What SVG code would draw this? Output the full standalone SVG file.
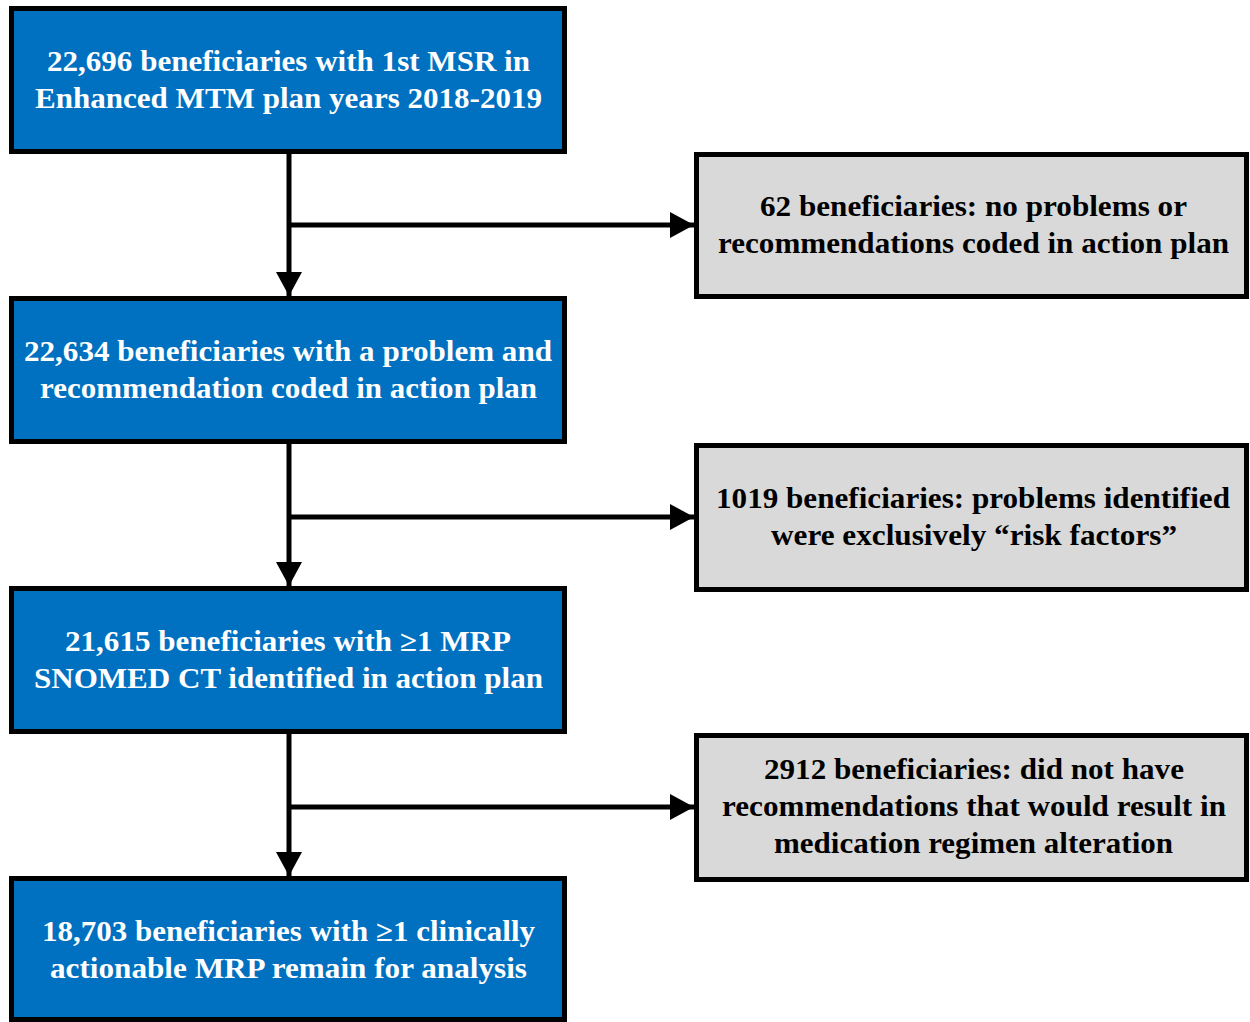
<svg xmlns="http://www.w3.org/2000/svg" width="1250" height="1022" viewBox="0 0 1250 1022">
<style>
.main{fill:#0070C0;stroke:#000;stroke-width:5}
.side{fill:#D9D9D9;stroke:#000;stroke-width:5}
text{font-family:"Liberation Serif","Times New Roman",serif;font-weight:bold;font-size:29px;text-anchor:middle}
.w{fill:#fff}
.k{fill:#000}
.ln{stroke:#000;stroke-width:5;fill:none}
</style>
<defs>
<marker id="ah" markerUnits="userSpaceOnUse" markerWidth="26" markerHeight="26" refX="24" refY="13" orient="auto">
<path d="M0,0 L24,13 L0,26 Z" fill="#000"/>
</marker>
</defs>
<rect width="1250" height="1022" fill="#fff"/>
<g id="connectors">
<line class="ln" x1="289" y1="154" x2="289" y2="296" marker-end="url(#ah)"/>
<line class="ln" x1="289" y1="225" x2="694" y2="225" marker-end="url(#ah)"/>
<line class="ln" x1="289" y1="444" x2="289" y2="586" marker-end="url(#ah)"/>
<line class="ln" x1="289" y1="517" x2="694" y2="517" marker-end="url(#ah)"/>
<line class="ln" x1="289" y1="734" x2="289" y2="876" marker-end="url(#ah)"/>
<line class="ln" x1="289" y1="807" x2="694" y2="807" marker-end="url(#ah)"/>
</g>
<g id="box1">
<rect class="main" x="11.5" y="8.5" width="553" height="143"/>
<text class="w" x="288.5" y="71" textLength="483" lengthAdjust="spacingAndGlyphs">22,696 beneficiaries with 1st MSR in</text>
<text class="w" x="288.5" y="108" textLength="507" lengthAdjust="spacingAndGlyphs">Enhanced MTM plan years 2018-2019</text>
</g>
<g id="excl1">
<rect class="side" x="696.5" y="154.5" width="550" height="142"/>
<text class="k" x="973.5" y="216" textLength="427" lengthAdjust="spacingAndGlyphs">62 beneficiaries: no problems or</text>
<text class="k" x="973.5" y="253" textLength="511" lengthAdjust="spacingAndGlyphs">recommendations coded in action plan</text>
</g>
<g id="box2">
<rect class="main" x="11.5" y="298.5" width="553" height="143"/>
<text class="w" x="288" y="361" textLength="528" lengthAdjust="spacingAndGlyphs">22,634 beneficiaries with a problem and</text>
<text class="w" x="288.5" y="398" textLength="497" lengthAdjust="spacingAndGlyphs">recommendation coded in action plan</text>
</g>
<g id="excl2">
<rect class="side" x="696.5" y="445.5" width="550" height="144"/>
<text class="k" x="973" y="508" textLength="514" lengthAdjust="spacingAndGlyphs">1019 beneficiaries: problems identified</text>
<text class="k" x="974" y="545" textLength="406" lengthAdjust="spacingAndGlyphs">were exclusively “risk factors”</text>
</g>
<g id="box3">
<rect class="main" x="11.5" y="588.5" width="553" height="143"/>
<text class="w" x="288" y="651" textLength="446" lengthAdjust="spacingAndGlyphs">21,615 beneficiaries with ≥1 MRP</text>
<text class="w" x="288.5" y="688" textLength="509" lengthAdjust="spacingAndGlyphs">SNOMED CT identified in action plan</text>
</g>
<g id="excl3">
<rect class="side" x="696.5" y="735.5" width="550" height="144"/>
<text class="k" x="974" y="779" textLength="420" lengthAdjust="spacingAndGlyphs">2912 beneficiaries: did not have</text>
<text class="k" x="974" y="816" textLength="504" lengthAdjust="spacingAndGlyphs">recommendations that would result in</text>
<text class="k" x="973.5" y="853" textLength="399" lengthAdjust="spacingAndGlyphs">medication regimen alteration</text>
</g>
<g id="box4">
<rect class="main" x="11.5" y="878.5" width="553" height="141"/>
<text class="w" x="288.5" y="941" textLength="493" lengthAdjust="spacingAndGlyphs">18,703 beneficiaries with ≥1 clinically</text>
<text class="w" x="288.5" y="978" textLength="477" lengthAdjust="spacingAndGlyphs">actionable MRP remain for analysis</text>
</g>
</svg>
